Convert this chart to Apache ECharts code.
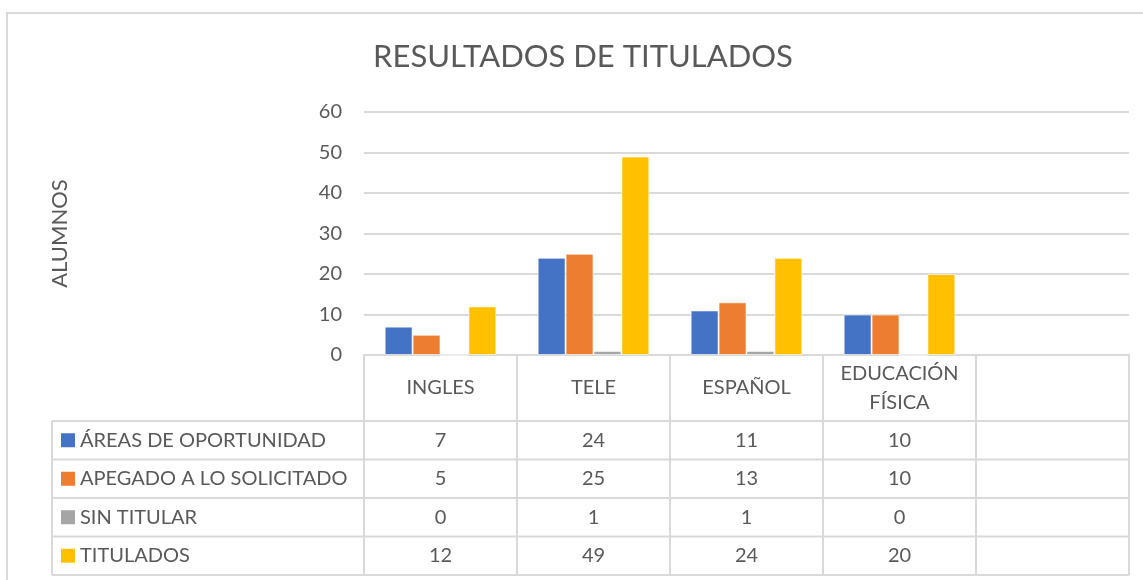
<!DOCTYPE html>
<html>
<head>
<meta charset="utf-8">
<script src="https://cdn.jsdelivr.net/npm/echarts@6/dist/echarts.min.js"></script>
<style>
  html, body { margin: 0; padding: 0; background: #fff; }
  #main { width: 1143px; height: 580px; }
</style>
</head>
<body>
<div id="main"></div>
<script>
// data
const categories = ['INGLES', 'TELE', 'ESPAÑOL', 'EDUCACIÓN\nFÍSICA', '']
const seriesNames = ['ÁREAS DE OPORTUNIDAD', 'APEGADO A LO SOLICITADO', 'SIN TITULAR', 'TITULADOS']
const areasOportunidad = [7, 24, 11, 10, null]
const apegadoSolicitado = [5, 25, 13, 10, null]
const sinTitular = [0, 1, 1, 0, null]
const titulados = [12, 49, 24, 20, null]
const yTicks = [0, 10, 20, 30, 40, 50, 60]

const seriesData = [areasOportunidad, apegadoSolicitado, sinTitular, titulados]
const colors = ['#4472C4', '#ED7D31', '#A5A5A5', '#FFC000']
const textColor = '#595959'
const lineColor = '#d9d9d9'
const font = 'Lato'
const fontSize = 20

const chart = echarts.init(document.getElementById('main'))

let option = {
  animation: false,
  textStyle: { fontFamily: font },
  grid: { left: 364, right: 14, top: 112, bottom: 225, containLabel: false },
  xAxis: {
    type: 'category',
    data: categories,
    axisLine: { lineStyle: { color: lineColor, width: 2 } },
    axisTick: { show: false },
    axisLabel: { show: false }
  },
  yAxis: {
    type: 'value',
    min: yTicks[0],
    max: yTicks[yTicks.length - 1],
    interval: 10,
    name: 'ALUMNOS',
    nameLocation: 'middle',
    nameRotate: 90,
    nameGap: 293,
    nameTextStyle: { color: textColor, fontSize: 22, fontFamily: font },
    axisLine: { show: false },
    axisTick: { show: false },
    axisLabel: { color: textColor, fontSize: fontSize, margin: 22, fontFamily: font },
    splitLine: { lineStyle: { color: lineColor, width: 2 } }
  },
  series: seriesNames.map((name, i) => ({
    name: name,
    type: 'bar',
    data: seriesData[i],
    barGap: 0,
    barCategoryGap: '27%',
    itemStyle: { color: colors[i], borderColor: 'rgba(255,255,255,0.6)', borderWidth: 1 }
  }))
}
option && chart.setOption(option)

// data table under the plot, built from the same arrays
function buildTable() {
  const c0 = chart.convertToPixel({ xAxisIndex: 0 }, 0)
  const c1 = chart.convertToPixel({ xAxisIndex: 0 }, 1)
  const band = c1 - c0
  const yBase = chart.convertToPixel({ yAxisIndex: 0 }, 0)
  const left = c0 - band / 2
  const right = left + band * categories.length
  const tableLeft = 52
  const headerH = 66
  const rowH = 38.5
  const headerBottom = yBase + headerH
  const tableBottom = headerBottom + rowH * seriesNames.length
  const els = []
  const line = (x1, y1, x2, y2) => els.push({
    type: 'line', silent: true,
    shape: { x1, y1, x2, y2 },
    style: { stroke: lineColor, lineWidth: 2 }
  })
  const text = (x, y, t, align) => els.push({
    type: 'text', silent: true, x, y,
    style: { text: t, fill: textColor, font: fontSize + 'px "' + font + '"', align: align || 'center', verticalAlign: 'middle', lineHeight: 29 }
  })

  // header verticals
  for (let k = 0; k <= categories.length; k++) {
    line(left + band * k, yBase, left + band * k, tableBottom)
  }
  line(tableLeft, headerBottom, tableLeft, tableBottom)
  for (let r = 0; r <= seriesNames.length; r++) {
    line(tableLeft, headerBottom + rowH * r, right, headerBottom + rowH * r)
  }
  // header labels
  categories.forEach((c, k) => text(c0 + band * k, yBase + headerH / 2, c))
  // rows
  seriesNames.forEach((name, r) => {
    const cy = headerBottom + rowH * r + rowH / 2
    els.push({
      type: 'rect', silent: true,
      shape: { x: 61, y: cy - 7, width: 14, height: 14 },
      style: { fill: colors[r] }
    })
    text(80, cy, name, 'left')
    seriesData[r].forEach((v, k) => {
      if (v !== null) text(c0 + band * k, cy, String(v))
    })
  })
  // title and outer frame
  els.push({
    type: 'text', silent: true, x: 583, y: 57,
    style: { text: 'RESULTADOS DE TITULADOS', fill: textColor, font: '31px "' + font + '"', align: 'center', verticalAlign: 'middle' }
  })
  els.push({
    type: 'rect', silent: true,
    shape: { x: 7, y: 13, width: 1200, height: 700 },
    style: { fill: 'none', stroke: lineColor, lineWidth: 2 }
  })
  chart.setOption({ graphic: els })
}
buildTable()
</script>
</body>
</html>
